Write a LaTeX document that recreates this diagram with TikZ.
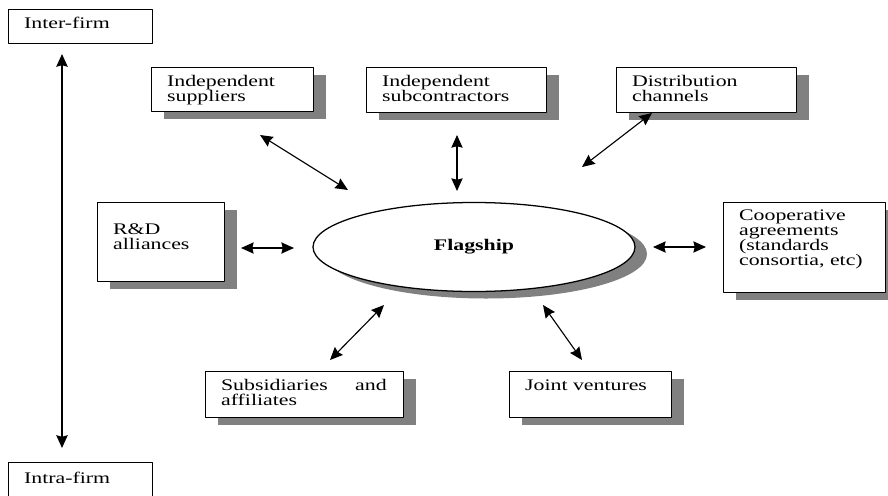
\documentclass[tikz,border=0pt]{standalone}
\usepackage{fontspec}
\setmainfont{Liberation Serif}[FakeStretch=1.35]
\usetikzlibrary{arrows.meta,shapes.geometric,shadows}
\newlength\px \setlength\px{0.025cm}
% text of a box: width, height, words (optional: space above the first line)
\newcommand\firmtext[4][5pt]{\parbox[c][#3][t]{#2}{\leftskip=11pt\rightskip=12pt\vspace*{#1}#4}}
\tikzset{
  firm/.style={draw, fill=white, line width=.9pt, inner sep=0pt, anchor=north west, align=left},
  shade/.style={drop shadow={shadow xshift=12\px, shadow yshift=-7\px, fill=black!50, opacity=1}},
  hub/.style={ellipse, draw, fill=white, line width=.9pt, inner sep=0pt, minimum width=322\px, minimum height=89\px, font=\fontsize{11.5}{12}\bfseries\selectfont},
  link/.style={<->, line width=.8pt}
}
\begin{document}
\begin{tikzpicture}[x=0.025cm, y=-0.025cm, >={Stealth[length=9pt,width=8pt,inset=1pt]}, line join=round, font=\fontsize{11.5}{10.6}\selectfont]
  \useasboundingbox (0,0) rectangle (888,495);
  % levels
  \node[firm] (inter) at (8,9) {\firmtext[5.5pt]{144\px}{34\px}{Inter-firm}};
  \node[firm] (intra) at (8,462) {\firmtext[7pt]{144\px}{44\px}{Intra-firm}};
  \coordinate (top) at (62,54);
  \coordinate (bot) at (62,448);
  \draw[<->, line width=1.4pt] (top) -- (bot);
  % the flagship and its partners
  \node[hub, shade] (flag) at (474,247) {Flagship};
  \node[firm, shade] (sup) at (151,67) {\firmtext[5.5pt]{162\px}{44\px}{Independent\\suppliers}};
  \node[firm, shade] (subc) at (366,67) {\firmtext[5.5pt]{180\px}{45\px}{Independent\\subcontractors}};
  \node[firm, shade] (dist) at (616,67) {\firmtext[5.5pt]{180\px}{45\px}{Distribution\\channels}};
  \node[firm, shade] (rd) at (97,202) {\firmtext[15pt]{127\px}{79\px}{R\&D\\alliances}};
  \node[firm, shade] (coop) at (723,202) {\firmtext[5pt]{162\px}{90\px}{Cooperative\\agreements\\(standards\\consortia, etc)}};
  \node[firm, shade] (subs) at (205,371) {\firmtext[5.5pt]{198\px}{46\px}{Subsidiaries and affiliates}};
  \node[firm, shade] (joint) at (509,371) {\firmtext[5.5pt]{162\px}{46\px}{Joint ventures}};
  % two-way links
  \coordinate (sup-a) at (260,135);  \coordinate (sup-b) at (348,190);
  \coordinate (subc-a) at (457,135); \coordinate (subc-b) at (457,191);
  \coordinate (dist-a) at (652,113); \coordinate (dist-b) at (582,167);
  \coordinate (rd-a) at (241,248);   \coordinate (rd-b) at (294,248);
  \coordinate (coop-a) at (706,247); \coordinate (coop-b) at (653,247);
  \coordinate (subs-a) at (330,360); \coordinate (subs-b) at (384,305);
  \coordinate (joint-a) at (582,360); \coordinate (joint-b) at (543,305);
  \foreach \p in {sup,subc,dist,rd,coop,subs,joint}
    \draw[link] (\p-a) -- (\p-b);
\end{tikzpicture}
\end{document}
